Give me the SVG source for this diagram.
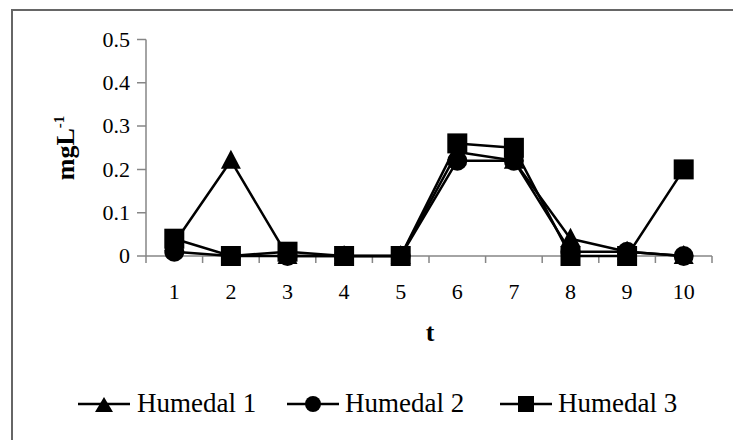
<svg xmlns="http://www.w3.org/2000/svg" xmlns:xlink="http://www.w3.org/1999/xlink" width="733" height="440" viewBox="0 0 733 440">
<style>
.frame{fill:#fff;stroke:#666;stroke-width:2}
.axis{stroke:#868686;stroke-width:1.5;fill:none}
.tick{font-family:"Liberation Serif",serif;font-size:22px;fill:#000}
.ser{fill:none;stroke:#000;stroke-width:2.5;stroke-linejoin:round}
.mk{fill:#000}
.ttl{font-family:"Liberation Serif",serif;font-size:26px;font-weight:bold;fill:#000}
.leg{font-family:"Liberation Serif",serif;font-size:27px;fill:#000}
</style>
<defs>
<path id="tri" d="M0,-11 L10,8 L-10,8 Z"/>
<circle id="cir" r="10"/>
<rect id="sq" x="-10" y="-10" width="20" height="20"/>
<path id="ltri" d="M0,-8 L9,7 L-9,7 Z"/>
<circle id="lcir" r="8"/>
<rect id="lsq" x="-8" y="-8" width="16" height="16"/>
</defs>
<rect class="frame" x="12" y="10" width="740" height="450"/>
<g id="axes">
<path class="axis" d="M146,39.5V256H712M137,39.5H146M137,82.8H146M137,126.1H146M137,169.4H146M137,212.7H146M137,256H146M146,256V263M202.6,256V263M259.2,256V263M315.8,256V263M372.4,256V263M429,256V263M485.6,256V263M542.2,256V263M598.8,256V263M655.4,256V263M712,256V263"/>
<g class="tick" text-anchor="end">
<text x="130" y="47">0.5</text>
<text x="130" y="90">0.4</text>
<text x="130" y="133">0.3</text>
<text x="130" y="177">0.2</text>
<text x="130" y="220">0.1</text>
<text x="130" y="263">0</text>
</g>
<g class="tick" text-anchor="middle">
<text x="174.3" y="299">1</text>
<text x="230.9" y="299">2</text>
<text x="287.5" y="299">3</text>
<text x="344.1" y="299">4</text>
<text x="400.7" y="299">5</text>
<text x="457.3" y="299">6</text>
<text x="513.9" y="299">7</text>
<text x="570.5" y="299">8</text>
<text x="627.1" y="299">9</text>
<text x="683.7" y="299">10</text>
</g>
<text class="ttl" transform="translate(74,148) rotate(-90)" text-anchor="middle">mgL<tspan font-size="15" dy="-10">-1</tspan></text>
<text class="ttl" x="430" y="341" text-anchor="middle">t</text>
</g>
<g id="connectors">
<g id="series1">
<polyline class="ser" points="174.3,243 230.9,160.7 287.5,256 344.1,256 400.7,256 457.3,152.1 513.9,160.7 570.5,238.7 627.1,251.7 683.7,256"/>
<g class="mk">
<use xlink:href="#tri" x="174.3" y="243"/><use xlink:href="#tri" x="230.9" y="160.7"/><use xlink:href="#tri" x="287.5" y="256"/><use xlink:href="#tri" x="344.1" y="256"/><use xlink:href="#tri" x="400.7" y="256"/><use xlink:href="#tri" x="457.3" y="152.1"/><use xlink:href="#tri" x="513.9" y="160.7"/><use xlink:href="#tri" x="570.5" y="238.7"/><use xlink:href="#tri" x="627.1" y="251.7"/><use xlink:href="#tri" x="683.7" y="256"/>
</g>
</g>
<g id="series2">
<polyline class="ser" points="174.3,251.7 230.9,256 287.5,256 344.1,256 400.7,256 457.3,160.7 513.9,160.7 570.5,251.7 627.1,251.7 683.7,256"/>
<g class="mk">
<use xlink:href="#cir" x="174.3" y="251.7"/><use xlink:href="#cir" x="230.9" y="256"/><use xlink:href="#cir" x="287.5" y="256"/><use xlink:href="#cir" x="344.1" y="256"/><use xlink:href="#cir" x="400.7" y="256"/><use xlink:href="#cir" x="457.3" y="160.7"/><use xlink:href="#cir" x="513.9" y="160.7"/><use xlink:href="#cir" x="570.5" y="251.7"/><use xlink:href="#cir" x="627.1" y="251.7"/><use xlink:href="#cir" x="683.7" y="256"/>
</g>
</g>
<g id="series3">
<polyline class="ser" points="174.3,238.7 230.9,256 287.5,251.7 344.1,256 400.7,256 457.3,143.4 513.9,147.8 570.5,256 627.1,256 683.7,169.4"/>
<g class="mk">
<use xlink:href="#sq" x="174.3" y="238.7"/><use xlink:href="#sq" x="230.9" y="256"/><use xlink:href="#sq" x="287.5" y="251.7"/><use xlink:href="#sq" x="344.1" y="256"/><use xlink:href="#sq" x="400.7" y="256"/><use xlink:href="#sq" x="457.3" y="143.4"/><use xlink:href="#sq" x="513.9" y="147.8"/><use xlink:href="#sq" x="570.5" y="256"/><use xlink:href="#sq" x="627.1" y="256"/><use xlink:href="#sq" x="683.7" y="169.4"/>
</g>
</g>
</g>
<g id="legend">
<g id="leg1">
<line class="ser" x1="78" y1="404" x2="130" y2="404"/><use class="mk" xlink:href="#ltri" x="104" y="405"/>
<text class="leg" x="137" y="412">Humedal 1</text>
</g>
<g id="leg2">
<line class="ser" x1="287" y1="404" x2="339" y2="404"/><use class="mk" xlink:href="#lcir" x="313" y="404"/>
<text class="leg" x="345" y="412">Humedal 2</text>
</g>
<g id="leg3">
<line class="ser" x1="500" y1="404" x2="552" y2="404"/><use class="mk" xlink:href="#lsq" x="526" y="404"/>
<text class="leg" x="558" y="412">Humedal 3</text>
</g>
</g>
</svg>
